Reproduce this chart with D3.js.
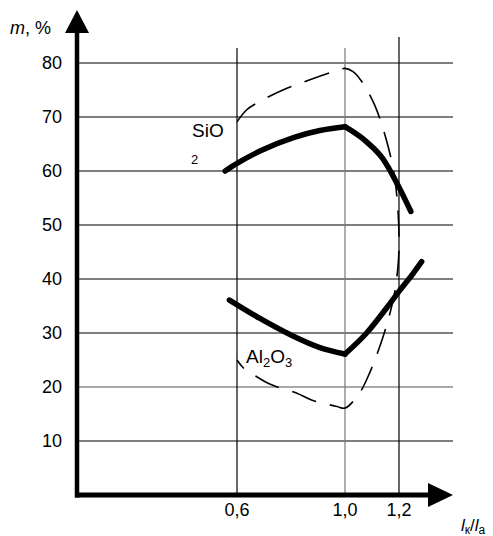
<!DOCTYPE html>
<html>
<head>
<meta charset="utf-8">
<script src="https://cdn.jsdelivr.net/npm/d3@7"></script>
<style>
  body { margin: 0; background: #fff; }
  svg { display: block; font-family: 'Liberation Sans', Arial, sans-serif; }
</style>
</head>
<body>
<div id="chart"></div>
<script>
// ticks
const xTicks = [0.6, 1.0, 1.2]
const xTickLabels = ['0,6', '1,0', '1,2']
const yTicks = [10, 20, 30, 40, 50, 60, 70, 80]

// thick curves, [l_k/l_a, m %]
const sio2Rise = [[0.556, 60], [0.6, 61.4], [0.685, 63.7], [0.809, 66.2], [0.907, 67.5], [1.0, 68.2]]
const sio2Fall = [[1.0, 68.2], [1.08, 65.4], [1.14, 62.3], [1.2, 57.0], [1.244, 52.5]]
const al2o3Fall = [[0.572, 36.1], [0.685, 32.7], [0.809, 29.4], [0.907, 27.3], [1.0, 26.1]]
const al2o3Rise = [[1.0, 26.1], [1.08, 30.0], [1.167, 35.5], [1.2, 37.7], [1.252, 41.0], [1.284, 43.2]]

// dashed loop
const dashedLoop = [
  [0.6, 69.1], [0.635, 71.3], [0.674, 72.6], [0.77, 75.0], [0.87, 76.9], [0.97, 78.6],
  [1.0, 79.0], [1.03, 78.4], [1.06, 76.7], [1.11, 72.2], [1.16, 64.5], [1.185, 58.3],
  [1.197, 52], [1.2, 46], [1.195, 41.7], [1.18, 36.5], [1.141, 29.3], [1.085, 21.9],
  [1.05, 18.6], [1.0, 16.1], [0.97, 16.4], [0.876, 17.6], [0.82, 18.9], [0.728, 20.4],
  [0.673, 21.9], [0.63, 23.2], [0.6, 25]
]

const width = 493
const height = 536

const svg = d3.select('#chart')
  .append('svg')
  .attr('width', width)
  .attr('height', height)

const x = d3.scaleLinear().domain([0, 1.0]).range([75, 345])
const y = d3.scaleLinear().domain([0, 80]).range([495, 63])

const gridRight = 453

// horizontal grid
svg.append('g')
  .selectAll('line')
  .data(yTicks)
  .enter()
  .append('line')
  .attr('x1', x(0))
  .attr('x2', gridRight)
  .attr('y1', d => y(d))
  .attr('y2', d => y(d))
  .attr('stroke', d => d === 20 ? '#555' : '#000')
  .attr('stroke-width', 1.2)

// vertical grid
svg.append('g')
  .selectAll('line')
  .data(xTicks)
  .enter()
  .append('line')
  .attr('x1', d => x(d))
  .attr('x2', d => x(d))
  .attr('y1', d => d === 1.2 ? 37 : 48)
  .attr('y2', y(0))
  .attr('stroke', d => d === 1.0 ? '#777' : '#000')
  .attr('stroke-width', 1.2)

// y tick labels
svg.append('g')
  .selectAll('text')
  .data(yTicks)
  .enter()
  .append('text')
  .attr('x', 62)
  .attr('y', d => y(d))
  .attr('dy', '0.35em')
  .attr('text-anchor', 'end')
  .attr('font-size', 18)
  .text(d => d)

// x tick labels
svg.append('g')
  .selectAll('text')
  .data(xTicks)
  .enter()
  .append('text')
  .attr('x', d => x(d))
  .attr('y', 516)
  .attr('text-anchor', 'middle')
  .attr('font-size', 18)
  .text((d, i) => xTickLabels[i])

const loopLine = d3.line()
  .x(d => x(d[0]))
  .y(d => y(d[1]))
  .curve(d3.curveCatmullRom.alpha(0.5))

const smoothLine = d3.line()
  .x(d => x(d[0]))
  .y(d => y(d[1]))
  .curve(d3.curveMonotoneX)

// dashed loop
svg.append('path')
  .attr('d', loopLine(dashedLoop))
  .attr('fill', 'none')
  .attr('stroke', '#000')
  .attr('stroke-width', 1.6)
  .attr('stroke-dasharray', '26,14')

// thick curves
const thick = [sio2Rise, sio2Fall, al2o3Fall, al2o3Rise]
svg.append('g')
  .selectAll('path')
  .data(thick)
  .enter()
  .append('path')
  .attr('d', d => smoothLine(d))
  .attr('fill', 'none')
  .attr('stroke', '#000')
  .attr('stroke-width', 5.5)
  .attr('stroke-linecap', 'round')
  .attr('stroke-linejoin', 'round')

// axes with arrows
svg.append('line')
  .attr('x1', x(0) + 2)
  .attr('x2', x(0) + 2)
  .attr('y1', y(0) + 2.5)
  .attr('y2', 30)
  .attr('stroke', '#000')
  .attr('stroke-width', 4.5)
svg.append('path')
  .attr('d', `M${x(0) + 2},10 L${x(0) + 14},33 L${x(0) - 10},33 Z`)
  .attr('fill', '#000')

svg.append('line')
  .attr('x1', x(0))
  .attr('x2', 430)
  .attr('y1', y(0))
  .attr('y2', y(0))
  .attr('stroke', '#000')
  .attr('stroke-width', 5)
svg.append('path')
  .attr('d', `M453,${y(0)} L428,${y(0) - 12} L428,${y(0) + 12} Z`)
  .attr('fill', '#000')

// axis titles
const yTitle = svg.append('text')
  .attr('x', 10)
  .attr('y', 34)
  .attr('font-size', 18)
yTitle.append('tspan').attr('font-style', 'italic').text('m')
yTitle.append('tspan').text(', %')

const xTitle = svg.append('text')
  .attr('x', 461)
  .attr('y', 531)
  .attr('font-size', 17)
xTitle.append('tspan').attr('font-style', 'italic').text('l')
xTitle.append('tspan').attr('font-size', 12).attr('dy', 3).text('к')
xTitle.append('tspan').attr('dy', -3).text('/')
xTitle.append('tspan').attr('font-style', 'italic').text('l')
xTitle.append('tspan').attr('font-size', 12).attr('dy', 3).text('a')

// series labels
svg.append('text')
  .attr('x', 192)
  .attr('y', 137)
  .attr('font-size', 19)
  .text('SiO')
svg.append('text')
  .attr('x', 191)
  .attr('y', 164)
  .attr('font-size', 13)
  .text('2')

const al = svg.append('text')
  .attr('x', 246)
  .attr('y', 363)
  .attr('font-size', 19)
al.append('tspan').text('Al')
al.append('tspan').attr('font-size', 13).attr('dy', 4).text('2')
al.append('tspan').attr('dy', -4).text('O')
al.append('tspan').attr('font-size', 13).attr('dy', 4).text('3')
</script>
</body>
</html>
